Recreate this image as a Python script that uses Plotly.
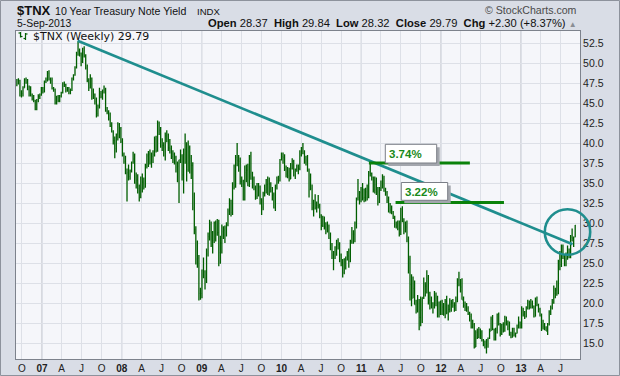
import plotly.graph_objects as go
import pandas as pd

# Weekly $TNX bars (yield x10), Sep 2006 - Sep 2013
opens = [
    47.3, 47.9, 47.9, 46.0, 46.3, 47.0, 48.0, 47.6, 46.8, 47.1, 46.0, 45.6, 45.4, 44.3, 45.5, 45.9, 46.1,
    47.0, 46.5, 47.8, 48.0, 48.8, 48.1, 47.9, 46.9, 46.8, 45.1, 45.9, 45.4, 46.0, 46.4, 47.5, 47.4, 46.7, 47.0, 46.5, 46.7, 48.2, 48.6, 49.5, 51.2, 51.6, 51.3, 50.3, 51.9, 51.0, 49.5, 47.9, 47.0, 48.2, 46.6, 46.2, 45.3, 43.8, 44.7, 46.3, 45.9, 46.5, 46.8, 44.1, 44.0, 43.1, 42.2, 41.5, 40.4, 39.4, 41.2, 42.4, 41.9,
    40.3, 38.6, 37.8, 36.3, 36.4, 35.9, 36.6, 37.7, 38.1, 35.1, 35.5, 34.4, 33.3, 34.5, 35.2, 34.6, 37.2, 38.5, 38.7, 37.7, 38.4, 38.6, 40.6, 39.1, 42.6, 41.7, 39.7, 39.8, 39.6, 41.0, 41.2, 39.5, 39.4, 38.4, 38.7, 38.3, 37.1, 37.2, 38.0, 38.5, 36.1, 38.7, 39.3, 36.8, 39.5, 38.2, 37.3, 32.0, 29.3, 25.6, 25.7, 21.3,
    21.3, 24.2, 24.0, 23.2, 26.2, 28.4, 29.9, 28.9, 27.9, 30.1, 28.7, 28.9, 26.4, 27.6, 29.0, 29.2, 29.5, 29.9, 31.6, 32.9, 31.4, 34.5, 34.6, 38.3, 37.9, 37.8, 35.3, 35.0, 33.0, 36.4, 36.7, 34.8, 38.5, 35.6, 35.6, 34.5, 33.4, 33.5, 34.6, 33.1, 32.1, 33.8, 34.2, 34.9, 33.8, 35.0, 34.1, 33.6, 32.0, 34.7, 35.4, 35.4,
    38.0, 38.4, 38.3, 36.8, 36.2, 36.0, 35.6, 36.9, 37.8, 36.1, 36.8, 37.1, 36.9, 38.6, 39.5, 38.8, 37.7, 38.0, 36.6, 34.3, 34.4, 32.0, 32.9, 32.0, 32.3, 32.2, 31.1, 29.8, 30.6, 29.6, 29.9, 29.1, 28.2, 26.8, 26.1, 26.5, 27.1, 27.9, 27.4, 26.1, 25.1, 23.9, 25.6, 25.5, 26.0, 25.3, 27.8, 28.7, 28.7, 30.1, 33.2, 33.3, 33.9,
    33.0, 33.2, 33.3, 34.0, 33.3, 36.4, 36.3, 35.8, 34.2, 34.9, 34.0, 32.7, 34.4, 34.5, 35.7, 34.1, 33.9, 32.9, 31.5, 31.7, 31.5, 30.7, 29.9, 29.7, 29.4, 28.7, 31.8, 30.3, 29.1, 29.6, 28.0, 25.6, 22.4, 20.7, 21.9, 19.9, 19.2, 20.5, 18.3, 19.2, 20.8, 22.5, 22.2, 23.2, 20.4, 20.4, 20.1, 19.6, 20.4, 20.7, 18.5, 20.2,
    18.8, 19.6, 18.7, 20.3, 18.9, 19.3, 19.9, 20.1, 19.8, 19.8, 20.3, 23.0, 22.4, 22.1, 20.5, 19.8, 19.6, 19.4, 18.8, 18.4, 17.1, 17.4, 14.6, 16.4, 15.8, 16.8, 16.5, 15.5, 14.9, 14.6, 15.5, 15.7, 16.6, 18.1, 16.8, 15.5, 16.7, 18.7, 17.5, 16.3, 17.4, 16.6, 17.6, 17.5, 17.2, 16.1, 15.8, 16.9, 16.2, 16.3, 17.0, 17.7,
    17.0, 19.0, 18.7, 18.4, 19.5, 20.2, 19.5, 20.0, 19.7, 18.4, 20.6, 19.9, 19.3, 18.5, 17.1, 17.2, 17.0, 16.6, 17.4, 19.0, 19.5, 20.1, 21.3, 21.7, 21.3, 25.3, 24.9, 27.2, 25.9, 24.8, 25.6, 26.0, 25.8, 28.3, 28.2, 28.37,
]
highs = [
    48.1, 48.2, 48.0, 46.7, 47.2, 48.2, 48.3, 48.1, 47.3, 47.2, 46.3, 46.1, 45.5, 45.6, 46.2, 46.3, 47.1,
    47.1, 47.9, 48.3, 49.1, 49.2, 48.3, 48.3, 47.1, 46.9, 46.0, 46.1, 46.1, 46.5, 47.7, 47.8, 47.5, 47.1, 47.1, 46.9, 48.3, 48.7, 49.7, 51.5, 52.8, 51.9, 51.4, 52.0, 52.2, 51.2, 49.9, 48.2, 48.7, 48.3, 46.9, 46.3, 45.8, 44.9, 47.0, 46.6, 46.8, 47.3, 47.0, 44.6, 44.2, 43.9, 42.7, 41.7, 40.9, 41.3, 42.7, 42.6, 42.1,
    40.7, 38.9, 38.5, 36.9, 37.4, 36.8, 37.8, 39.0, 38.8, 36.4, 36.2, 34.9, 35.9, 36.3, 35.8, 37.5, 38.8, 39.1, 39.3, 38.9, 39.2, 40.9, 41.0, 42.9, 42.8, 42.1, 40.7, 40.2, 41.4, 41.7, 41.3, 40.6, 39.8, 39.2, 38.9, 38.5, 37.8, 38.0, 39.3, 38.7, 39.4, 41.3, 40.2, 40.4, 39.8, 38.6, 37.7, 33.9, 29.7, 27.9, 26.1, 22.0,
    24.3, 25.8, 24.2, 26.9, 28.9, 30.5, 30.3, 29.1, 30.3, 30.4, 30.6, 30.5, 28.5, 29.9, 29.7, 29.8, 30.2, 31.9, 33.2, 33.0, 35.2, 37.4, 38.6, 40.1, 38.6, 38.3, 35.9, 35.5, 37.3, 37.4, 37.5, 38.6, 39.0, 36.5, 35.9, 34.8, 35.1, 35.1, 34.8, 33.2, 34.0, 34.9, 35.6, 35.9, 35.8, 35.2, 34.6, 33.9, 34.9, 35.9, 36.0, 38.1,
    38.9, 38.9, 38.7, 37.3, 37.1, 37.0, 37.6, 38.2, 38.0, 36.9, 37.4, 37.4, 39.2, 39.6, 40.1, 39.2, 38.5, 38.6, 36.9, 36.3, 34.9, 33.0, 33.7, 32.8, 33.6, 32.5, 31.2, 31.0, 30.9, 30.2, 30.3, 29.9, 28.9, 27.6, 26.6, 27.2, 28.0, 28.2, 27.7, 26.3, 25.6, 25.7, 25.9, 26.6, 26.9, 28.0, 29.6, 29.2, 30.3, 33.3, 35.6, 34.1, 34.6,
    35.1, 34.4, 34.5, 34.9, 36.6, 37.7, 36.4, 35.9, 35.9, 35.8, 34.6, 34.6, 35.4, 36.2, 36.0, 34.5, 34.1, 33.4, 32.6, 32.3, 31.6, 31.0, 30.3, 30.4, 30.4, 32.0, 32.2, 30.7, 30.3, 30.4, 28.4, 26.0, 23.7, 23.4, 22.9, 20.5, 21.1, 20.6, 20.9, 20.8, 23.3, 22.7, 24.2, 23.6, 21.5, 20.9, 20.2, 21.6, 21.4, 21.0, 20.3, 20.4,
    20.5, 20.1, 20.6, 21.0, 19.9, 20.7, 20.5, 20.6, 20.2, 20.9, 23.2, 24.0, 23.1, 23.2, 20.9, 20.3, 20.1, 19.7, 19.0, 18.8, 18.0, 17.6, 16.7, 16.9, 17.1, 16.9, 16.7, 15.6, 15.4, 15.6, 15.8, 16.9, 18.4, 18.6, 16.9, 17.0, 18.8, 18.9, 17.6, 17.5, 17.7, 18.5, 18.4, 17.9, 17.8, 16.5, 17.0, 17.0, 16.4, 17.4, 18.4, 17.8,
    19.7, 19.5, 19.1, 19.7, 20.5, 20.4, 20.6, 20.4, 19.8, 20.8, 20.9, 20.0, 19.5, 18.8, 18.0, 17.6, 17.2, 17.6, 19.2, 19.8, 20.6, 22.3, 22.0, 22.9, 25.5, 26.6, 27.4, 27.4, 26.2, 26.4, 27.3, 26.9, 28.6, 29.4, 28.4, 29.84,
]
lows = [
    47.2, 47.4, 45.9, 45.8, 45.9, 47.0, 47.5, 46.7, 45.9, 45.9, 45.4, 45.2, 44.2, 44.2, 45.2, 45.6, 46.0,
    46.3, 46.4, 47.6, 47.8, 47.9, 47.5, 46.8, 46.5, 44.9, 44.9, 45.2, 45.2, 45.8, 46.3, 47.1, 46.4, 46.5, 46.2, 46.2, 46.6, 47.9, 48.5, 49.4, 51.0, 50.9, 49.7, 50.1, 50.8, 49.3, 47.7, 46.6, 46.9, 45.5, 45.6, 44.9, 43.3, 43.4, 44.4, 45.7, 45.5, 46.3, 44.0, 43.7, 42.9, 42.1, 41.4, 39.9, 38.2, 38.9, 40.4, 40.7, 40.1,
    38.4, 37.5, 36.2, 32.8, 35.4, 35.5, 36.4, 37.5, 35.0, 34.4, 33.8, 32.8, 33.2, 33.9, 34.3, 34.5, 36.9, 37.1, 37.4, 37.0, 37.6, 38.4, 38.9, 39.0, 41.1, 39.5, 39.1, 38.4, 37.9, 40.2, 39.1, 38.8, 38.1, 37.6, 37.4, 36.4, 35.2, 32.6, 37.6, 35.4, 33.8, 37.5, 35.3, 36.5, 36.3, 35.6, 31.7, 28.7, 24.9, 24.5, 20.4, 20.5,
    20.7, 23.2, 21.8, 22.6, 25.9, 27.9, 27.1, 26.3, 27.6, 27.8, 28.5, 24.7, 25.0, 26.3, 28.1, 27.6, 28.4, 29.7, 31.1, 30.9, 31.1, 34.3, 34.5, 37.2, 36.5, 34.9, 34.6, 32.9, 32.9, 35.2, 34.7, 34.6, 35.5, 34.4, 34.2, 33.0, 33.1, 33.4, 32.4, 31.1, 31.7, 33.4, 33.8, 33.6, 33.5, 33.9, 32.9, 31.9, 31.6, 34.3, 35.0, 35.3,
    37.9, 37.5, 36.6, 35.8, 35.7, 35.3, 35.6, 36.8, 35.9, 35.6, 36.5, 36.2, 36.7, 38.4, 38.7, 37.5, 37.3, 36.5, 33.3, 34.2, 31.7, 30.9, 31.8, 31.4, 31.9, 30.7, 29.2, 29.6, 29.3, 28.7, 28.9, 28.1, 26.7, 25.6, 24.2, 25.6, 26.0, 26.8, 25.2, 24.7, 23.3, 23.7, 24.3, 25.4, 24.5, 25.2, 27.5, 27.5, 27.7, 29.4, 32.9, 32.4, 32.7,
    32.9, 32.7, 32.8, 32.9, 33.2, 35.9, 35.4, 33.9, 33.8, 33.6, 32.3, 32.6, 34.1, 34.4, 34.0, 33.5, 32.6, 31.4, 31.3, 31.2, 30.6, 29.5, 29.4, 29.2, 28.4, 28.6, 30.2, 28.7, 28.9, 27.7, 23.8, 20.4, 19.7, 20.7, 19.9, 18.8, 18.9, 16.7, 17.2, 17.6, 20.6, 20.9, 21.3, 19.9, 19.3, 19.4, 18.8, 19.4, 19.7, 18.3, 18.3, 18.6,
    18.6, 18.5, 18.2, 18.7, 17.9, 18.9, 19.0, 19.5, 19.0, 19.1, 20.2, 22.2, 21.4, 20.5, 19.5, 19.1, 19.0, 18.6, 17.8, 16.9, 16.9, 14.4, 14.6, 15.6, 15.7, 15.6, 15.3, 14.7, 14.4, 13.8, 14.5, 15.6, 16.6, 16.7, 15.4, 15.4, 16.3, 17.3, 15.9, 16.1, 16.4, 16.5, 17.3, 16.7, 16.0, 15.7, 15.8, 15.9, 15.8, 16.3, 16.9, 16.9,
    16.9, 18.4, 18.1, 18.3, 19.3, 19.3, 19.4, 19.4, 18.3, 18.4, 19.7, 18.9, 18.4, 16.6, 16.8, 16.7, 16.6, 16.1, 17.3, 18.6, 19.3, 20.0, 20.7, 21.0, 21.2, 24.2, 24.6, 25.6, 24.7, 24.7, 25.5, 25.7, 25.7, 27.8, 27.1, 28.32,
]
closes = [
    47.9, 47.9, 46.0, 46.3, 47.0, 48.0, 47.6, 46.8, 47.1, 46.0, 45.6, 45.4, 44.3, 45.5, 45.9, 46.1, 47.0,
    46.5, 47.8, 48.0, 48.8, 48.1, 47.9, 46.9, 46.8, 45.1, 45.9, 45.4, 46.0, 46.4, 47.5, 47.4, 46.7, 47.0, 46.5, 46.7, 48.2, 48.6, 49.5, 51.2, 51.6, 51.3, 50.3, 51.9, 51.0, 49.5, 47.9, 47.0, 48.2, 46.6, 46.2, 45.3, 43.8, 44.7, 46.3, 45.9, 46.5, 46.8, 44.1, 44.0, 43.1, 42.2, 41.5, 40.4, 39.4, 41.2, 42.4, 41.9, 40.3,
    38.6, 37.8, 36.3, 36.4, 35.9, 36.6, 37.7, 38.1, 35.1, 35.5, 34.4, 33.3, 34.5, 35.2, 34.6, 37.2, 38.5, 38.7, 37.7, 38.4, 38.6, 40.6, 39.1, 42.6, 41.7, 39.7, 39.8, 39.6, 41.0, 41.2, 39.5, 39.4, 38.4, 38.7, 38.3, 37.1, 37.2, 38.0, 38.5, 36.1, 38.7, 39.3, 36.8, 39.5, 38.2, 37.3, 32.0, 29.3, 25.6, 25.7, 21.3, 21.3,
    24.2, 24.0, 23.2, 26.2, 28.4, 29.9, 28.9, 27.9, 30.1, 28.7, 28.9, 26.4, 27.6, 29.0, 29.2, 29.5, 29.9, 31.6, 32.9, 31.4, 34.5, 34.6, 38.3, 37.9, 37.8, 35.3, 35.0, 33.0, 36.4, 36.7, 34.8, 38.5, 35.6, 35.6, 34.5, 33.4, 33.5, 34.6, 33.1, 32.1, 33.8, 34.2, 34.9, 33.8, 35.0, 34.1, 33.6, 32.0, 34.7, 35.4, 35.4, 38.0,
    38.4, 38.3, 36.8, 36.2, 36.0, 35.6, 36.9, 37.8, 36.1, 36.8, 37.1, 36.9, 38.6, 39.5, 38.8, 37.7, 38.0, 36.6, 34.3, 34.4, 32.0, 32.9, 32.0, 32.3, 32.2, 31.1, 29.8, 30.6, 29.6, 29.9, 29.1, 28.2, 26.8, 26.1, 26.5, 27.1, 27.9, 27.4, 26.1, 25.1, 23.9, 25.6, 25.5, 26.0, 25.3, 27.8, 28.7, 28.7, 30.1, 33.2, 33.3, 33.9, 33.0,
    33.2, 33.3, 34.0, 33.3, 36.4, 36.3, 35.8, 34.2, 34.9, 34.0, 32.7, 34.4, 34.5, 35.7, 34.1, 33.9, 32.9, 31.5, 31.7, 31.5, 30.7, 29.9, 29.7, 29.4, 28.7, 31.8, 30.3, 29.1, 29.6, 28.0, 25.6, 22.4, 20.7, 21.9, 19.9, 19.2, 20.5, 18.3, 19.2, 20.8, 22.5, 22.2, 23.2, 20.4, 20.4, 20.1, 19.6, 20.4, 20.7, 18.5, 20.2, 18.8,
    19.6, 18.7, 20.3, 18.9, 19.3, 19.9, 20.1, 19.8, 19.8, 20.3, 23.0, 22.4, 22.1, 20.5, 19.8, 19.6, 19.4, 18.8, 18.4, 17.1, 17.4, 14.6, 16.4, 15.8, 16.8, 16.5, 15.5, 14.9, 14.6, 15.5, 15.7, 16.6, 18.1, 16.8, 15.5, 16.7, 18.7, 17.5, 16.3, 17.4, 16.6, 17.6, 17.5, 17.2, 16.1, 15.8, 16.9, 16.2, 16.3, 17.0, 17.7, 17.0,
    19.0, 18.7, 18.4, 19.5, 20.2, 19.5, 20.0, 19.7, 18.4, 20.6, 19.9, 19.3, 18.5, 17.1, 17.2, 17.0, 16.6, 17.4, 19.0, 19.5, 20.1, 21.3, 21.7, 21.3, 25.3, 24.9, 27.2, 25.9, 24.8, 25.6, 26.0, 25.8, 28.3, 28.2, 27.49, 29.79,
]
weeks = pd.date_range("2006-09-08", periods=len(closes), freq="7D")

tick_dates = pd.date_range("2006-10-01", "2013-07-01", freq="QS")
tick_labels = ["O", "07", "A", "J", "O", "08", "A", "J", "O", "09", "A", "J", "O", "10", "A", "J",
               "O", "11", "A", "J", "O", "12", "A", "J", "O", "13", "A", "J"]
y_ticks = [15.0, 17.5, 20.0, 22.5, 25.0, 27.5, 30.0, 32.5, 35.0, 37.5, 40.0, 42.5, 45.0, 47.5, 50.0, 52.5]

# trendline and support levels (annotations)
trend_start = ("2007-06-13", 52.88)
trend_end = ("2013-08-25", 27.45)
level_1 = ("2011-02-05", "2012-05-12", 37.6, "3.74%")
level_2 = ("2011-06-07", "2012-10-15", 32.65, "3.22%")

W, H = 620, 376
L, R, T, B = 16, 40, 31, 17
PW, PH = W - L - R, H - T - B


def px(x):
    return (x - L) / PW


def py(y):
    return (H - B - y) / PH


GREEN = "#005e00"
fig = go.Figure(go.Ohlc(
    x=weeks, open=opens, high=highs, low=lows, close=closes,
    increasing=dict(line=dict(color=GREEN, width=1.3)),
    decreasing=dict(line=dict(color=GREEN, width=1.3)),
    tickwidth=0.45, hoverinfo="skip", showlegend=False,
))

shapes = []
# darker year gridlines
for yr in range(2007, 2014):
    shapes.append(dict(type="line", xref="x", yref="paper", x0=f"{yr}-01-01", x1=f"{yr}-01-01",
                       y0=0, y1=1, line=dict(color="#b8bcc5", width=1), layer="below"))
# trend line
shapes.append(dict(type="line", xref="x", yref="y", x0=trend_start[0], y0=trend_start[1],
                   x1=trend_end[0], y1=trend_end[1], line=dict(color="#1f8e8e", width=2.6)))
# green levels
for lv in (level_1, level_2):
    shapes.append(dict(type="line", xref="x", yref="y", x0=lv[0], x1=lv[1], y0=lv[2], y1=lv[2],
                       line=dict(color="#0a820a", width=3)))
# label boxes with shadows
boxes = [(385.3, 144.3, 436.7, 163.0), (401.3, 182.5, 447.7, 200.3)]
for (x0, y0, x1, y1) in boxes:
    shapes.append(dict(type="rect", xref="paper", yref="paper", x0=px(x0 + 3), x1=px(x1 + 3),
                       y0=py(y1 + 3), y1=py(y0 + 3), fillcolor="#a3a6ad", line=dict(width=0)))
    shapes.append(dict(type="rect", xref="paper", yref="paper", x0=px(x0), x1=px(x1),
                       y0=py(y1), y1=py(y0), fillcolor="white", line=dict(color="#7a7e86", width=1)))
# circle
cx, cy, r = 567.5, 232, 22.7
shapes.append(dict(type="circle", xref="paper", yref="paper", x0=px(cx - r), x1=px(cx + r),
                   y0=py(cy + r), y1=py(cy - r), line=dict(color="#1f8e8e", width=2.6)))
# legend icon
icon = [(20.5, 32, 20.5, 37.5), (18.5, 33, 20.5, 33), (20.5, 36.5, 22.5, 36.5),
        (25.5, 33, 25.5, 40), (23.5, 38.5, 25.5, 38.5), (25.5, 34, 27.5, 34)]
for (a, b, c, d) in icon:
    shapes.append(dict(type="line", xref="paper", yref="paper", x0=px(a), x1=px(c), y0=py(b), y1=py(d),
                       line=dict(color=GREEN, width=1.2)))
# outer frame
shapes.append(dict(type="rect", xref="paper", yref="paper", x0=px(0.5), x1=px(W - 0.5), y0=py(H - 0.5),
                   y1=py(0.5), line=dict(color="#8d929c", width=1)))

FONT = "Liberation Sans, Arial, sans-serif"
ann = []


def text(x, y, s, size, anchor="left", color="#111", family=FONT):
    ann.append(dict(x=px(x), y=py(y), xref="paper", yref="paper", text=s, showarrow=False,
                    xanchor=anchor, yanchor="middle", font=dict(size=size, color=color, family=family)))


text(15, 11, "<b>$TNX</b>", 13)
text(52.5, 11, "10 Year Treasury Note Yield", 10.6)
text(194.5, 11.5, "INDX", 9.6)
text(15, 23.5, "5-Sep-2013", 10.4)
text(579, 10, "© StockCharts.com", 10.6, anchor="right", color="#4a4a4a")
text(579, 23.5, "<b>Open</b> 28.37  <b>High</b> 29.84  <b>Low</b> 28.32  <b>Close</b> 29.79  "
     "<b>Chg</b> +2.30 (+8.37%) <span style='color:#8a8d94;font-size:8px'>▲</span>", 11.2, anchor="right")
text(31, 36.5, "$TNX (Weekly) 29.79", 11, family="DejaVu Sans, Verdana, sans-serif")
text(386.5, 154, f"<b>{level_1[3]}</b>", 11.5, color="#1a8a1a")
text(402.5, 191.5, f"<b>{level_2[3]}</b>", 11.5, color="#1a8a1a")

fig.update_layout(
    width=W, height=H, margin=dict(l=L, r=R, t=T, b=B, autoexpand=False),
    paper_bgcolor="#d9dde6", plot_bgcolor="#f5f6fa",
    shapes=shapes, annotations=ann, showlegend=False,
    xaxis=dict(type="date", range=["2006-09-04", "2013-09-28"], tickvals=tick_dates,
               ticktext=[f"<b>{t}</b>" if t.isdigit() else t for t in tick_labels],
               showgrid=True, gridcolor="#dde0e7", gridwidth=1, ticks="", zeroline=False,
               tickfont=dict(size=10, color="#222", family=FONT),
               showline=True, linecolor="#7d828c", linewidth=1, mirror=True,
               rangeslider=dict(visible=False), automargin=False),
    yaxis=dict(side="right", range=[13.1, 54.1], tickvals=y_ticks,
               ticktext=[f"{v:.1f}" for v in y_ticks],
               showgrid=True, gridcolor="#dde0e7", gridwidth=1, ticks="", zeroline=False,
               tickfont=dict(size=10.5, color="#222", family=FONT),
               showline=True, linecolor="#7d828c", linewidth=1, mirror=True, automargin=False),
)

fig.write_html("out.html", config={"displayModeBar": False},
               post_script="document.body.style.margin='0';document.body.style.padding='0';")
